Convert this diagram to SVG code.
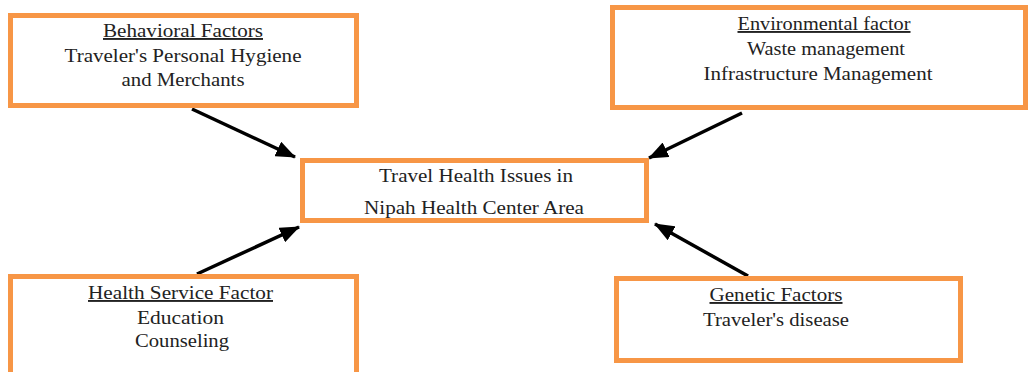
<svg xmlns="http://www.w3.org/2000/svg" width="1028" height="372" viewBox="0 0 1028 372">
<style>
.box{fill:#fff;stroke:#F79646;stroke-width:5}
.t{font-family:"Liberation Serif","Times New Roman",serif;font-size:19px;fill:#222;text-anchor:middle}
.u{text-decoration:underline}
.c{stroke:#000;stroke-width:3.5;fill:none}
</style>
<defs>
<marker id="ah" markerUnits="userSpaceOnUse" viewBox="0 0 20 16" markerWidth="20" markerHeight="16" refX="19" refY="8" orient="auto">
<path d="M0,0 L20,8 L0,16 Z" fill="#000"/>
</marker>
</defs>
<rect width="1028" height="372" fill="#fff"/>
<g id="connectors">
<line class="c" x1="192" y1="109" x2="295" y2="157" marker-end="url(#ah)"/>
<line class="c" x1="742" y1="113" x2="649" y2="158" marker-end="url(#ah)"/>
<line class="c" x1="197" y1="274" x2="299" y2="227" marker-end="url(#ah)"/>
<line class="c" x1="748" y1="276" x2="655" y2="224" marker-end="url(#ah)"/>
</g>
<g id="behavioral">
<rect class="box" x="10.5" y="15.5" width="346" height="90"/>
<text class="t u" x="183" y="37" textLength="160" lengthAdjust="spacingAndGlyphs">Behavioral Factors</text>
<text class="t" x="183" y="62" textLength="237" lengthAdjust="spacingAndGlyphs">Traveler's Personal Hygiene</text>
<text class="t" x="183" y="86" textLength="123" lengthAdjust="spacingAndGlyphs">and Merchants</text>
</g>
<g id="environmental">
<rect class="box" x="612.5" y="7.5" width="413" height="100"/>
<text class="t u" x="824" y="30" textLength="173" lengthAdjust="spacingAndGlyphs">Environmental factor</text>
<text class="t" x="826" y="55" textLength="158" lengthAdjust="spacingAndGlyphs">Waste management</text>
<text class="t" x="818" y="80" textLength="229" lengthAdjust="spacingAndGlyphs">Infrastructure Management</text>
</g>
<g id="center">
<rect class="box" x="302.5" y="160.5" width="344" height="60"/>
<text class="t" x="476" y="182" textLength="194" lengthAdjust="spacingAndGlyphs">Travel Health Issues in</text>
<text class="t" x="474" y="214" textLength="220" lengthAdjust="spacingAndGlyphs">Nipah Health Center Area</text>
</g>
<g id="healthservice">
<rect class="box" x="10.5" y="276.5" width="346" height="100"/>
<text class="t u" x="180.5" y="299" textLength="185" lengthAdjust="spacingAndGlyphs">Health Service Factor</text>
<text class="t" x="180.5" y="324" textLength="87" lengthAdjust="spacingAndGlyphs">Education</text>
<text class="t" x="182" y="347" textLength="94" lengthAdjust="spacingAndGlyphs">Counseling</text>
</g>
<g id="genetic">
<rect class="box" x="616.5" y="278.5" width="344" height="82"/>
<text class="t u" x="776" y="301" textLength="133" lengthAdjust="spacingAndGlyphs">Genetic Factors</text>
<text class="t" x="776" y="326" textLength="146" lengthAdjust="spacingAndGlyphs">Traveler's disease</text>
</g>
</svg>
